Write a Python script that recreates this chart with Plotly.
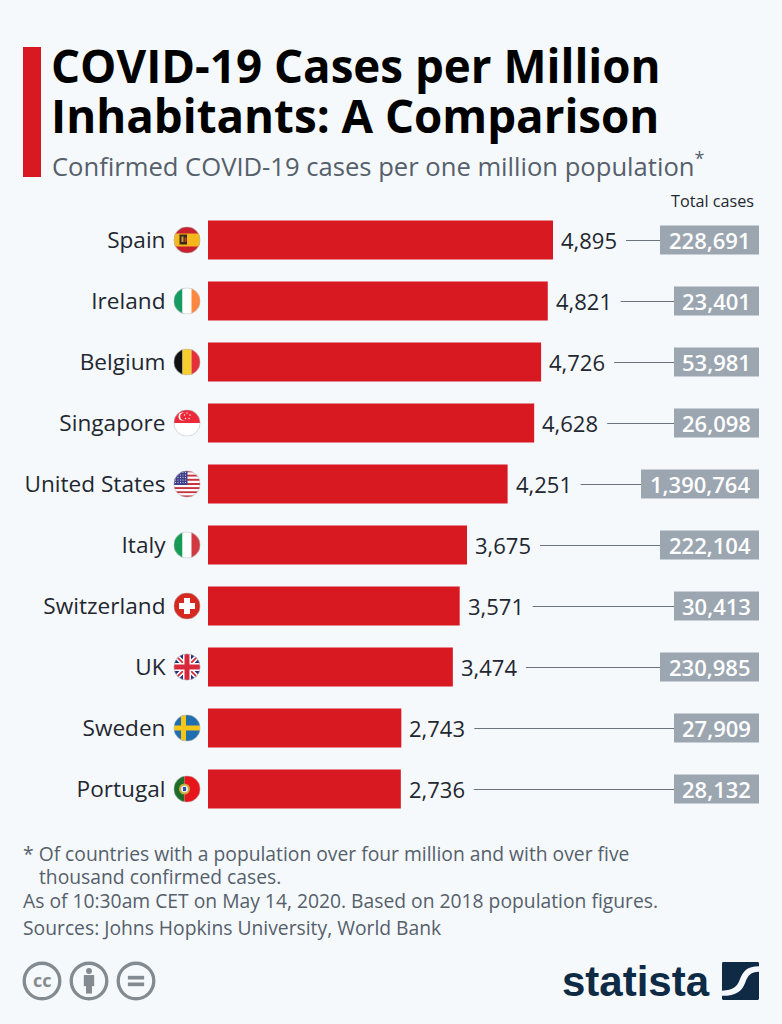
import base64
import plotly.graph_objects as go

W, H = 782, 1024

countries = ["Spain", "Ireland", "Belgium", "Singapore", "United States",
             "Italy", "Switzerland", "UK", "Sweden", "Portugal"]
per_million = [4895, 4821, 4726, 4628, 4251, 3675, 3571, 3474, 2743, 2736]
total_cases = [228691, 23401, 53981, 26098, 1390764, 222104, 30413, 230985, 27909, 28132]

RED = "#d81922"
BG = "#f5f9fc"
GREY_BOX = "#9ba6b1"
DARK = "#1f2730"
GREY_TXT = "#55606b"
NAVY = "#0f2a45"

BAR_X0 = 208
PX_PER_CASE = 345 / 4895
ROW0 = 240
ROW_STEP = 61


def px(x):
    return x / W


def py(y):
    return 1 - y / H


def xdata(x):
    # pixel position to per-million axis value
    return (x - BAR_X0) / PX_PER_CASE


def svg_uri(body, size=54):
    svg = ('<svg xmlns="http://www.w3.org/2000/svg" width="%d" height="%d" viewBox="0 0 %d %d">%s</svg>'
           % (size * 4, size * 4, size, size, body))
    return "data:image/svg+xml;base64," + base64.b64encode(svg.encode()).decode()


def flag(body):
    clip = '<clipPath id="c"><circle cx="27" cy="27" r="26.5"/></clipPath>'
    ring = '<circle cx="27" cy="27" r="26.3" fill="none" stroke="#b9bec4" stroke-width="1.2"/>'
    return svg_uri(clip + '<g clip-path="url(#c)">' + body + '</g>' + ring)


def r(x, y, w, h, c):
    return '<rect x="%s" y="%s" width="%s" height="%s" fill="%s"/>' % (x, y, w, h, c)


us_stripes = "".join(r(0, i * 54 / 13, 54, 54 / 13, "#c8343f" if i % 2 == 0 else "#ffffff") for i in range(13))
us_stars = "".join('<circle cx="%d" cy="%d" r="1" fill="#fff"/>' % (4 + 5 * a, 4 + 5 * b)
                   for a in range(5) for b in range(5))
flags = {
    "Spain": r(0, 0, 54, 54, "#c8202c") + r(0, 14, 54, 26, "#f4b81c")
        + r(12, 16, 15, 20, "#3a2a1a") + r(16, 20, 4, 11, "#c8a23a") + r(22, 22, 4, 9, "#b23a2a"),
    "Ireland": r(0, 0, 18, 54, "#169b62") + r(18, 0, 18, 54, "#ffffff") + r(36, 0, 18, 54, "#ff883e"),
    "Belgium": r(0, 0, 18, 54, "#111111") + r(18, 0, 18, 54, "#f6cf2f") + r(36, 0, 18, 54, "#e5303a"),
    "Singapore": r(0, 0, 54, 27, "#ed2939") + r(0, 27, 54, 27, "#ffffff")
        + '<circle cx="18" cy="14" r="8" fill="#fff"/><circle cx="21" cy="14" r="7.5" fill="#ed2939"/>'
        + "".join('<circle cx="%s" cy="%s" r="1.4" fill="#fff"/>' % p
                  for p in [(27, 7), (33, 11), (31, 18), (24, 18), (22, 11)]),
    "United States": us_stripes + r(0, 0, 28, 29, "#3f3f8c") + us_stars,
    "Italy": r(0, 0, 18, 54, "#169b55") + r(18, 0, 18, 54, "#ffffff") + r(36, 0, 18, 54, "#d13a40"),
    "Switzerland": r(0, 0, 54, 54, "#d5291f") + r(21, 11, 12, 32, "#ffffff") + r(11, 21, 32, 12, "#ffffff"),
    "UK": r(0, 0, 54, 54, "#1f2f75")
        + '<path d="M0 0L54 54M54 0L0 54" stroke="#fff" stroke-width="10"/>'
        + '<path d="M0 0L54 54M54 0L0 54" stroke="#d8283c" stroke-width="3.5"/>'
        + r(19, 0, 16, 54, "#ffffff") + r(0, 19, 54, 16, "#ffffff")
        + r(22, 0, 10, 54, "#d8283c") + r(0, 22, 54, 10, "#d8283c"),
    "Sweden": r(0, 0, 54, 54, "#1f6fae") + r(15, 0, 10, 54, "#f5c518") + r(0, 22, 54, 10, "#f5c518"),
    "Portugal": r(0, 0, 22, 54, "#1f6b2a") + r(22, 0, 32, 54, "#e8141c")
        + '<circle cx="22" cy="27" r="11" fill="#c9a93a"/><circle cx="22" cy="27" r="7" fill="#e8e8e8"/>'
        + r(19, 23, 6, 8, "#2b4fa0"),
}

cc_grey = "#848b90"
cc_ring = '<circle cx="27" cy="27" r="24" fill="none" stroke="%s" stroke-width="4.5"/>' % cc_grey
cc_icon = svg_uri(cc_ring)
by_icon = svg_uri(cc_ring + '<circle cx="27" cy="13.5" r="4" fill="%s"/>' % cc_grey
                  + r(20, 19, 14, 15, cc_grey) + r(23, 30, 8, 14, cc_grey))
nd_icon = svg_uri(cc_ring + r(16, 20, 22, 5, cc_grey) + r(16, 29, 22, 5, cc_grey))
logo_mark = svg_uri(
    '<rect x="0" y="0" width="54" height="54" rx="2" fill="%s"/>' % NAVY
    + '<path d="M54 6C36 6 31 13 26 25C22 35 17 40 0 41V48C22 48 29 41 34 29C38 19 42 14 54 14Z" fill="%s"/>' % BG
)

fig = go.Figure()
fig.add_trace(go.Bar(
    y=countries,
    x=per_million,
    orientation="h",
    width=39 / ROW_STEP,
    marker=dict(color=RED, line=dict(width=0)),
    hoverinfo="skip",
))

shapes = [dict(type="rect", xref="paper", yref="paper", x0=px(23), x1=px(41), y0=py(47), y1=py(177),
               fillcolor=RED, line_width=0)]
annotations = []
images = []


def note(text, x, y, size, color, anchor="left", weight=None, **kw):
    font = dict(family="Open Sans", size=size, color=color)
    if weight:
        font["weight"] = weight
    annotations.append(dict(text=text, x=px(x), y=py(y), xref="paper", yref="paper", xanchor=anchor,
                            yanchor="middle", showarrow=False, font=font, borderpad=0, **kw))


note("COVID-19 Cases per Million", 50, 65, 45.7, "#000000", weight=700)
note("Inhabitants: A Comparison", 50, 115, 45.7, "#000000", weight=700)
note("Confirmed COVID-19 cases per one million population<sup>*</sup>", 51, 165, 25.6, GREY_TXT)
note("Total cases", 755, 201, 16.2, DARK, anchor="right")

for i, (name, val, tot) in enumerate(zip(countries, per_million, total_cases)):
    cy = ROW0 + i * ROW_STEP
    label = f"{tot:,}"
    box_w = {6: 85, 7: 99, 9: 118}[len(label)]
    box_left = 759 - box_w
    shapes.append(dict(type="rect", xref="paper", yref="paper", x0=px(box_left), x1=px(759),
                       y0=py(cy - 14.5), y1=py(cy + 14.5), fillcolor=GREY_BOX, line_width=0))
    shapes.append(dict(type="line", xref="x", yref="paper", x0=val + 73 / PX_PER_CASE, x1=xdata(box_left),
                       y0=py(cy + 0.5), y1=py(cy + 0.5), line=dict(color="#6b747d", width=1)))
    annotations.append(dict(text=f"{val:,}", x=val, y=name, xref="x", yref="y", xanchor="left",
                            yanchor="middle", xshift=6, yshift=0, showarrow=False,
                            font=dict(family="Open Sans", size=22, color=DARK)))
    note(label, (box_left + 759) / 2, cy, 22, "#ffffff", anchor="center", weight=600)
    images.append(dict(source=flag(flags[name]), xref="paper", yref="paper", x=px(173.5), y=py(cy - 13.5),
                       sizex=px(27), sizey=27 / H, xanchor="left", yanchor="top", layer="above",
                       sizing="stretch"))

note("* Of countries with a population over four million and with over five", 22, 853, 19.3, GREY_TXT)
note("thousand confirmed cases.", 38, 876, 19.3, GREY_TXT)
note("As of 10:30am CET on May 14, 2020. Based on 2018 population figures.", 22, 900, 19.3, GREY_TXT)
note("Sources: Johns Hopkins University, World Bank", 22, 927, 19.3, GREY_TXT)

for icon, x in [(cc_icon, 42), (by_icon, 89), (nd_icon, 136)]:
    images.append(dict(source=icon, xref="paper", yref="paper", x=px(x - 20), y=py(961), sizex=px(40),
                       sizey=40 / H, xanchor="left", yanchor="top", layer="above", sizing="stretch"))
note("<b>cc</b>", 42, 980, 18, cc_grey, anchor="center")

annotations.append(dict(text="<b>statista</b>", x=px(712), y=py(981), xref="paper", yref="paper",
                        xanchor="right", yanchor="middle", showarrow=False,
                        font=dict(family="Liberation Sans", size=42, color=NAVY)))
images.append(dict(source=logo_mark, xref="paper", yref="paper", x=px(722), y=py(962), sizex=px(37),
                   sizey=38 / H, xanchor="left", yanchor="top", layer="above", sizing="stretch"))

fig.update_layout(
    width=W,
    height=H,
    margin=dict(l=0, r=0, t=0, b=0, pad=0),
    paper_bgcolor=BG,
    plot_bgcolor=BG,
    showlegend=False,
    shapes=shapes,
    annotations=annotations,
    images=images,
    font=dict(family="Open Sans"),
    xaxis=dict(domain=[px(BAR_X0), 1], range=[0, (W - BAR_X0) / PX_PER_CASE], visible=False,
               fixedrange=True),
    yaxis=dict(type="category", categoryorder="array", categoryarray=countries,
               range=[(H - ROW0) / ROW_STEP, -ROW0 / ROW_STEP],
               showgrid=False, zeroline=False, showline=False,
               ticks="outside", ticklen=37, tickcolor="rgba(0,0,0,0)", tickwidth=1,
               tickfont=dict(family="Open Sans", size=22.6, color=DARK),
               fixedrange=True),
)

# page margin off so the figure sits at the window corner
fig.write_html("out.html", config=dict(displayModeBar=False),
               post_script="document.body.style.margin='0';document.documentElement.style.background='%s';" % BG)
